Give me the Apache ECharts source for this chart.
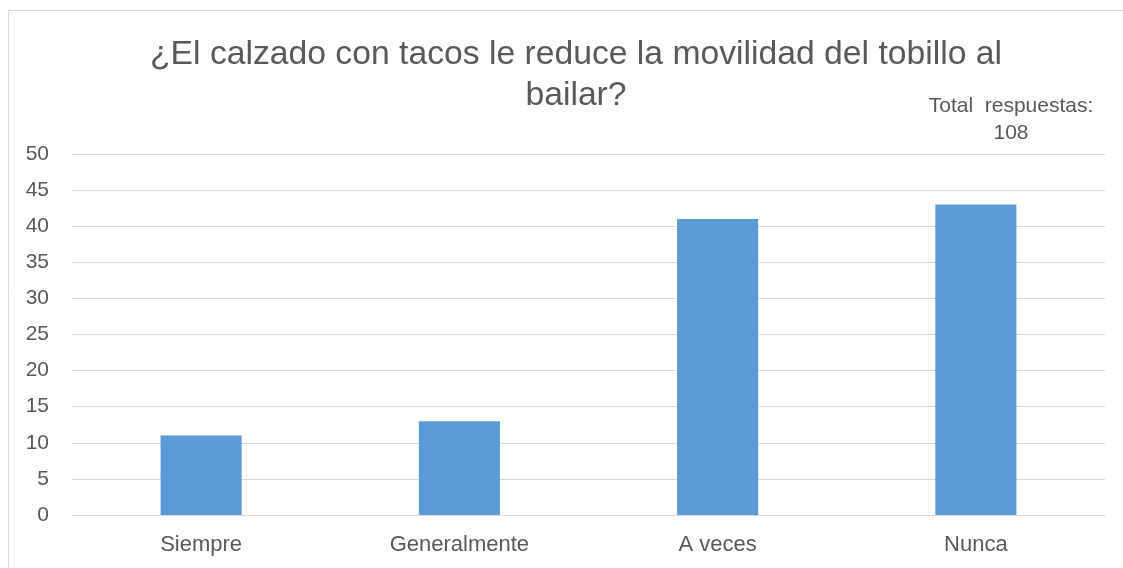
<!DOCTYPE html>
<html>
<head>
<meta charset="utf-8">
<script src="https://cdn.jsdelivr.net/npm/echarts@6/dist/echarts.min.js"></script>
<style>
  html, body { margin: 0; padding: 0; background: #ffffff; }
  #chart { width: 1123px; height: 568px; }
</style>
</head>
<body>
<div id="chart"></div>
<script>
// Survey answers
const categories = ['Siempre', 'Generalmente', 'A veces', 'Nunca'];
const responses = [11, 13, 41, 43];
const titleText = '¿El calzado con tacos le reduce la movilidad del tobillo al\nbailar?';
const totalText = 'Total  respuestas:\n108';

const FONT = '"Liberation Sans", Arial, sans-serif';
const TEXT = '#595959';
const GRID = '#D9D9D9';

const chart = echarts.init(document.getElementById('chart'), null, { renderer: 'canvas' });
chart.setOption({
  backgroundColor: '#ffffff',
  animation: false,
  title: {
    text: titleText,
    left: 571,
    top: 29,
    textAlign: 'center',
    textStyle: {
      fontFamily: FONT,
      fontSize: 33.7,
      fontWeight: 'normal',
      color: TEXT,
      lineHeight: 41,
      align: 'center'
    }
  },
  graphic: [
    {
      type: 'rect',
      silent: true,
      shape: { x: 8.5, y: 10.5, width: 1300, height: 700 },
      style: { fill: 'none', stroke: GRID, lineWidth: 1 }
    },
    {
      type: 'text',
      x: 1011,
      y: 93,
      style: {
        text: totalText,
        fontFamily: FONT,
        fontSize: 21,
        lineHeight: 27,
        fill: TEXT,
        align: 'center',
        verticalAlign: 'top'
      }
    }
  ],
  grid: { left: 72, right: 18, top: 154, bottom: 53, containLabel: false },
  xAxis: {
    type: 'category',
    data: categories,
    axisTick: { show: false },
    axisLine: { show: true, lineStyle: { color: GRID, width: 1 } },
    axisLabel: { color: TEXT, fontFamily: FONT, fontSize: 22, margin: 19 }
  },
  yAxis: {
    type: 'value',
    min: 0,
    max: 50,
    interval: 5,
    axisLine: { show: false },
    axisTick: { show: false },
    axisLabel: { color: TEXT, fontFamily: FONT, fontSize: 21, margin: 23 },
    splitLine: { lineStyle: { color: GRID, width: 1 } }
  },
  series: [{
    type: 'bar',
    data: responses,
    barWidth: '31.4%',
    itemStyle: { color: '#5B9BD5' }
  }]
});
</script>
</body>
</html>
